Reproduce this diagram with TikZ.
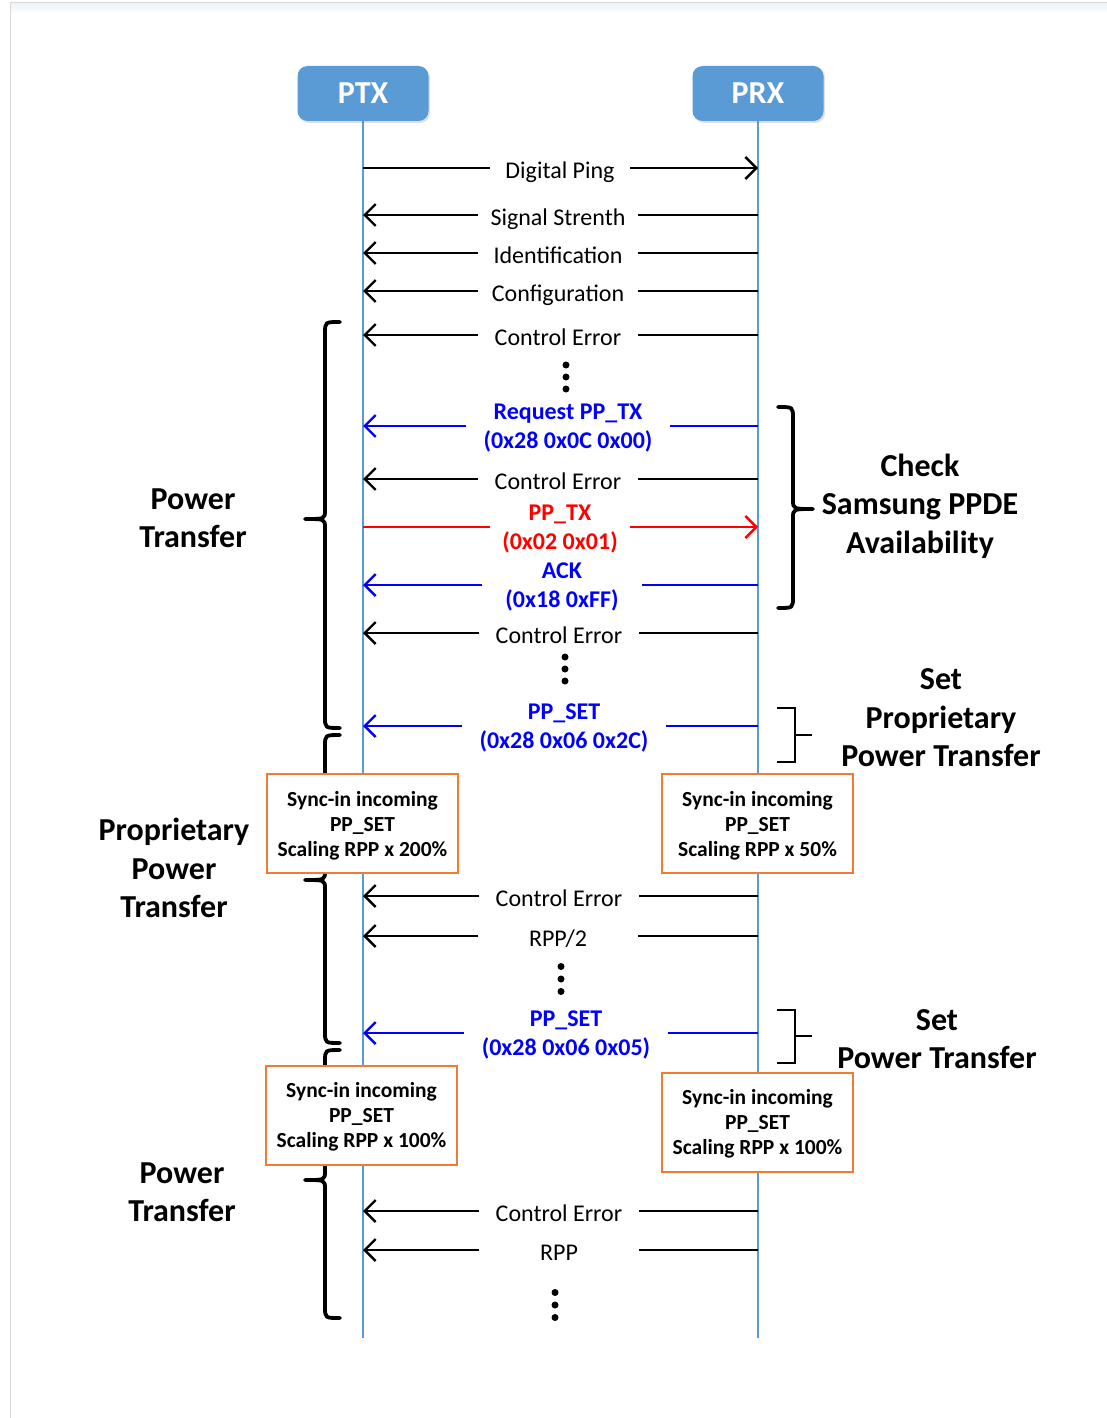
\documentclass[tikz,border=0pt]{standalone}
\usepackage{fontspec}
\setmainfont{Carlito}
\usetikzlibrary{arrows.meta,shadows}
\definecolor{lifeblue}{HTML}{5B9BD5}
\definecolor{msgblue}{HTML}{0000FF}
\definecolor{msgred}{HTML}{FF0000}
\definecolor{syncorange}{HTML}{ED7D31}
\tikzset{
  head/.style={fill=lifeblue, rounded corners=10pt, minimum width=131pt, minimum height=55pt,
    text=white, font=\fontsize{32}{36}\selectfont\bfseries,
    drop shadow={opacity=0.25, shadow xshift=1.5pt, shadow yshift=-2pt}},
  lifeline/.style={draw=lifeblue, line width=2pt},
  sig/.style={line width=2.4pt},
  msg/.style={inner xsep=0pt, inner ysep=0pt, minimum width=159pt, text height=20pt, text depth=0pt,
    font=\fontsize{24}{29}\selectfont},
  msgtwo/.style={inner xsep=0pt, inner ysep=0pt, minimum width=203pt, align=center, text depth=0pt,
    font=\fontsize{24}{28.5}\selectfont\bfseries},
  syncbox/.style={draw=syncorange, line width=2pt, fill=white, minimum width=191pt, minimum height=99pt,
    align=center, text depth=0pt, font=\fontsize{21.5}{25}\selectfont\bfseries},
  phase/.style={align=center, font=\fontsize{32}{38.5}\selectfont\bfseries},
  bracestyle/.style={line width=3.8pt, line cap=round, line join=round},
  bracket/.style={line width=1.6pt},
}
% #1 spine x, #2 top, #3 tip, #4 bottom, #5 side of the ends (1 right, -1 left)
\newcommand{\phasebrace}[5]{%
  \draw[bracestyle] ({#1+(#5)*15},#2) .. controls (#1,#2) .. (#1,#2+11)
    -- (#1,#3-9) .. controls (#1,#3) .. ({#1-(#5)*20},#3)
    .. controls (#1,#3) .. (#1,#3+9)
    -- (#1,#4-11) .. controls (#1,#4) .. ({#1+(#5)*15},#4);}
\begin{document}
\begin{tikzpicture}[x=1pt,y=-1pt,>={Straight Barb[length=11pt,width=22pt]}]
\useasboundingbox (0,0) rectangle (1107,1418);
% page edge
\shade[top color=lifeblue!12, bottom color=white] (10,3) rectangle (1107,14);
\draw[black!15, line width=1pt] (10,1418) -- (10,3) -- (1107,3);
% lifelines
\coordinate (TXend) at (363,1338);
\coordinate (RXend) at (758,1338);
\draw[lifeline] (363,120) -- (TXend);
\draw[lifeline] (758,120) -- (RXend);
\node[head] (PTX) at (363,93.5) {PTX};
\node[head] (PRX) at (758,93.5) {PRX};
% phase braces
\phasebrace{325}{322}{519}{728}{1}
\phasebrace{325}{735}{880}{1043}{1}
\phasebrace{325}{1050}{1180}{1318}{1}
\phasebrace{793}{407}{509}{608}{-1}
\draw[bracket] (777,708) -- (795,708) -- (795,762) -- (777,762) (795,735) -- (812,735);
\draw[bracket] (777,1010) -- (795,1010) -- (795,1063) -- (777,1063) (795,1036) -- (812,1036);
% messages
\node[msg, minimum width=140pt] (DP) at (560,168) {Digital Ping};
\draw[sig] (PTX |- DP) -- (DP.west);
\draw[sig,->] (DP.east) -- (PRX |- DP);
\node[msg] (SS) at (558,215) {Signal Strenth};
\draw[sig] (PRX |- SS) -- (SS.east); \draw[sig,->] (SS.west) -- (PTX |- SS);
\node[msg] (ID) at (558,253) {Identification};
\draw[sig] (PRX |- ID) -- (ID.east); \draw[sig,->] (ID.west) -- (PTX |- ID);
\node[msg] (CF) at (558,291) {Configuration};
\draw[sig] (PRX |- CF) -- (CF.east); \draw[sig,->] (CF.west) -- (PTX |- CF);
\node[msg] (CE1) at (558,335) {Control Error};
\draw[sig] (PRX |- CE1) -- (CE1.east); \draw[sig,->] (CE1.west) -- (PTX |- CE1);
\foreach \d in {-12,0,12} \fill (566,377+\d) circle[radius=3.5pt];
\node[msgtwo, text=msgblue] (REQ) at (568,426) {Request PP\_TX\\(0x28 0x0C 0x00)};
\draw[sig,msgblue] (PRX |- REQ) -- (REQ.east); \draw[sig,msgblue,->] (REQ.west) -- (PTX |- REQ);
\node[msg] (CE2) at (558,479) {Control Error};
\draw[sig] (PRX |- CE2) -- (CE2.east); \draw[sig,->] (CE2.west) -- (PTX |- CE2);
\node[msgtwo, text=msgred, minimum width=140pt] (PPTX) at (560,527) {PP\_TX\\(0x02 0x01)};
\draw[sig,msgred] (PTX |- PPTX) -- (PPTX.west); \draw[sig,msgred,->] (PPTX.east) -- (PRX |- PPTX);
\node[msgtwo, text=msgblue, minimum width=159pt] (ACK) at (562,585) {ACK\\(0x18 0xFF)};
\draw[sig,msgblue] (PRX |- ACK) -- (ACK.east); \draw[sig,msgblue,->] (ACK.west) -- (PTX |- ACK);
\node[msg] (CE3) at (559,633) {Control Error};
\draw[sig] (PRX |- CE3) -- (CE3.east); \draw[sig,->] (CE3.west) -- (PTX |- CE3);
\foreach \d in {-12,0,12} \fill (565,669+\d) circle[radius=3.5pt];
\node[msgtwo, text=msgblue] (SET1) at (564,726) {PP\_SET\\(0x28 0x06 0x2C)};
\draw[sig,msgblue] (PRX |- SET1) -- (SET1.east); \draw[sig,msgblue,->] (SET1.west) -- (PTX |- SET1);
\node[msg] (CE4) at (559,896) {Control Error};
\draw[sig] (PRX |- CE4) -- (CE4.east); \draw[sig,->] (CE4.west) -- (PTX |- CE4);
\node[msg] (RPPH) at (558,936) {RPP/2};
\draw[sig] (PRX |- RPPH) -- (RPPH.east); \draw[sig,->] (RPPH.west) -- (PTX |- RPPH);
\foreach \d in {-12.5,0,12.5} \fill (561,979+\d) circle[radius=3.5pt];
\node[msgtwo, text=msgblue] (SET2) at (566,1033) {PP\_SET\\(0x28 0x06 0x05)};
\draw[sig,msgblue] (PRX |- SET2) -- (SET2.east); \draw[sig,msgblue,->] (SET2.west) -- (PTX |- SET2);
\node[msg] (CE5) at (559,1211) {Control Error};
\draw[sig] (PRX |- CE5) -- (CE5.east); \draw[sig,->] (CE5.west) -- (PTX |- CE5);
\node[msg] (RPP) at (559,1250) {RPP};
\draw[sig] (PRX |- RPP) -- (RPP.east); \draw[sig,->] (RPP.west) -- (PTX |- RPP);
\foreach \d in {-12.5,0,12.5} \fill (555,1305+\d) circle[radius=3.5pt];
% sync boxes
\node[syncbox] (SYTX1) at (362.5,823.5) {Sync-in incoming\\PP\_SET\\Scaling RPP x 200\%};
\node[syncbox] (SYRX1) at (757.5,823.5) {Sync-in incoming\\PP\_SET\\Scaling RPP x 50\%};
\node[syncbox] (SYTX2) at (361.5,1115) {Sync-in incoming\\PP\_SET\\Scaling RPP x 100\%};
\node[syncbox] (SYRX2) at (757.5,1122) {Sync-in incoming\\PP\_SET\\Scaling RPP x 100\%};
% phase labels
\node[phase] (PT1) at (193,518) {Power\\Transfer};
\node[phase] (PPT) at (174,868) {Proprietary\\Power\\Transfer};
\node[phase] (PT2) at (182,1192) {Power\\Transfer};
\node[phase] (CHK) at (920,506) {Check\\Samsung PPDE\\Availability};
\node[phase] (SPPT) at (941,718) {Set\\Proprietary\\Power Transfer};
\node[phase] (SPT) at (937,1039) {Set\\Power Transfer};
\end{tikzpicture}
\end{document}
